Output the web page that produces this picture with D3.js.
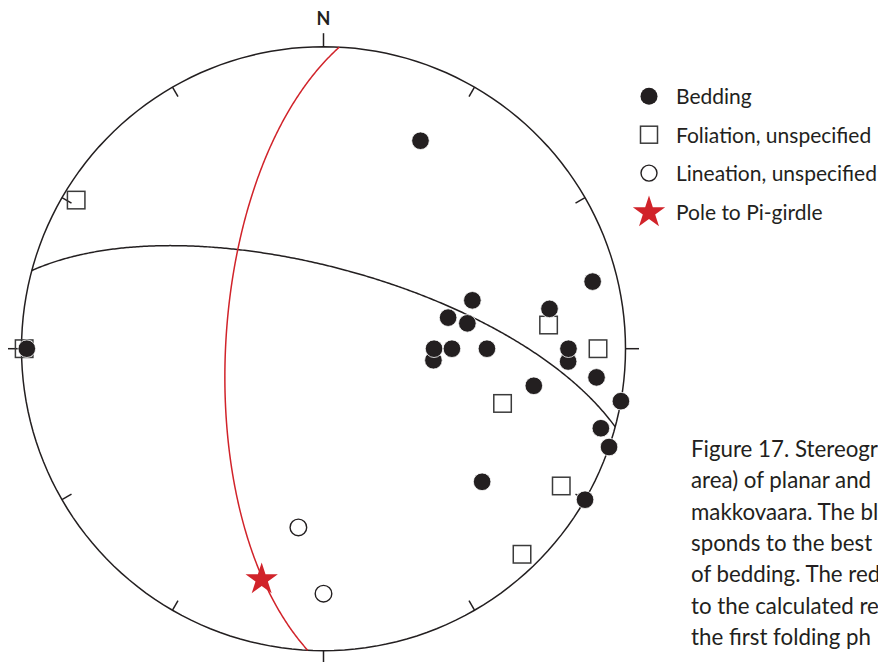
<!DOCTYPE html>
<html>
<head>
<meta charset="utf-8">
<script src="https://cdn.jsdelivr.net/npm/d3@7"></script>
<style>
  body { margin: 0; background: #fff; }
  svg { display: block; }
  text { font-family: Lato, "Open Sans", sans-serif; fill: #231f20; }
</style>
</head>
<body>
<svg id="chart" width="878" height="662"></svg>
<script>
// Lower-hemisphere orientations as [trend°, plunge°]
const bedding = [
  [25, 25], [76, 9], [72, 47], [76, 55], [80, 50], [80, 25], [96, 60],
  [90, 60], [90, 55], [90, 45], [93, 20], [90, 20], [96, 10], [100, 30],
  [100, 0], [106, 5], [109, 0], [130, 32], [120, 0], [270, 2]
];
const foliation = [
  [301, 5], [84, 26], [90, 10], [107, 38], [120, 10], [136, 6], [270, 1]
];
const lineation = [
  [188, 40], [180, 20]
];
// Pole to the best-fit great circle (pi-girdle) of bedding, [trend°, plunge°]
const piPole = [195, 22];
// Red plane as [dip direction°, dip°]
const redPlane = [273, 63.5];

const tickAzimuths = d3.range(0, 360, 30);
const legendLabels = ["Bedding", "Foliation, unspecified", "Lineation, unspecified", "Pole to Pi-girdle"];
const captionLines = [
  "Figure 17. Stereograp",
  "area) of planar and",
  "makkovaara. The bl",
  "sponds to the best",
  "of bedding. The red",
  "to the calculated re",
  "the first folding ph"
];

const ink = "#231f20";
const red = "#d1232a";

const svg = d3.select("#chart");
svg.append("rect").attr("width", 878).attr("height", 662).attr("fill", "#fff");

// Equal-area (Schmidt) net, lower hemisphere
const cx = 323.5, cy = 348.7, R = 302;
const projection = d3.geoAzimuthalEqualArea()
  .scale(R / Math.SQRT2)
  .translate([cx, cy])
  .clipAngle(90)
  .precision(0.1);
const path = d3.geoPath(projection);

const rad = Math.PI / 180;
// trend/plunge -> lon/lat with the downward vertical at the projection centre
function toGeo([t, p]) {
  const n = Math.cos(p * rad) * Math.cos(t * rad);
  const e = Math.cos(p * rad) * Math.sin(t * rad);
  const d = Math.sin(p * rad);
  return [Math.atan2(e, d) / rad, Math.asin(Math.max(-1, Math.min(1, n))) / rad];
}
function greatCircle(pole) {
  const ring = d3.geoCircle().center(toGeo(pole)).radius(90).precision(0.5)().coordinates[0];
  return { type: "LineString", coordinates: ring };
}

// Primitive circle
svg.append("path")
  .attr("d", path({ type: "Sphere" }))
  .attr("fill", "none").attr("stroke", ink).attr("stroke-width", 1.5);

// Azimuth ticks: cardinal ticks point outwards, the others inwards
svg.append("g").selectAll("line").data(tickAzimuths).join("line")
  .each(function (az) {
    const [x, y] = projection(toGeo([az, 0]));
    const ux = (x - cx) / R, uy = (y - cy) / R;
    const len = az % 90 === 0 ? 13.5 : -11;
    d3.select(this)
      .attr("x1", x).attr("y1", y)
      .attr("x2", x + ux * len).attr("y2", y + uy * len);
  })
  .attr("stroke", ink).attr("stroke-width", 1.5);

// North label
const northPt = projection(toGeo([0, 0]));
svg.append("text")
  .attr("x", northPt[0]).attr("y", northPt[1] - 21.5)
  .attr("text-anchor", "middle")
  .attr("font-size", 18).attr("font-weight", 700)
  .text("N");

// Great circles
svg.append("path")
  .attr("d", path(greatCircle(piPole)))
  .attr("fill", "none").attr("stroke", ink).attr("stroke-width", 1.5);
svg.append("path")
  .attr("d", path(greatCircle([redPlane[0] + 180, 90 - redPlane[1]])))
  .attr("fill", "none").attr("stroke", red).attr("stroke-width", 1.5);

// Foliation (open squares)
const sq = 17.5;
svg.append("g").selectAll("rect").data(foliation).join("rect")
  .attr("x", d => projection(toGeo(d))[0] - sq / 2)
  .attr("y", d => projection(toGeo(d))[1] - sq / 2)
  .attr("width", sq).attr("height", sq)
  .attr("fill", "none").attr("stroke", "#3b3b3b").attr("stroke-width", 1.5);

// Lineation (open circles)
svg.append("g").selectAll("circle").data(lineation).join("circle")
  .attr("cx", d => projection(toGeo(d))[0])
  .attr("cy", d => projection(toGeo(d))[1])
  .attr("r", 8.3)
  .attr("fill", "none").attr("stroke", ink).attr("stroke-width", 1.4);

// Bedding (filled dots)
svg.append("g").selectAll("circle").data(bedding).join("circle")
  .attr("cx", d => projection(toGeo(d))[0])
  .attr("cy", d => projection(toGeo(d))[1])
  .attr("r", 8.8)
  .attr("fill", ink).attr("stroke", "#fff").attr("stroke-width", 0.8);

// Pi-girdle pole (star)
const starSize = 17 * 17 / 0.8908130915292852;
const starPath = d3.symbol(d3.symbolStar, starSize)();
const sp = projection(toGeo(piPole));
svg.append("path")
  .attr("d", starPath)
  .attr("transform", `translate(${sp[0]},${sp[1]})`)
  .attr("fill", red);

// Legend
const legend = svg.append("g");
const lx = 649, tx = 676, ly0 = 104.3, ldy = 38.4;
legendLabels.forEach((label, i) => {
  const by = ly0 + i * ldy;
  const sy = by - 8;
  if (i === 0) {
    legend.append("circle").attr("cx", lx).attr("cy", sy).attr("r", 8.5).attr("fill", ink);
  } else if (i === 1) {
    legend.append("rect").attr("x", lx - 8.5).attr("y", sy - 8.5).attr("width", 17).attr("height", 17)
      .attr("fill", "none").attr("stroke", "#3b3b3b").attr("stroke-width", 1.5);
  } else if (i === 2) {
    legend.append("circle").attr("cx", lx).attr("cy", sy).attr("r", 8)
      .attr("fill", "none").attr("stroke", ink).attr("stroke-width", 1.4);
  } else {
    legend.append("path").attr("d", starPath).attr("transform", `translate(${lx},${sy + 1})`).attr("fill", red);
  }
  legend.append("text").attr("x", tx).attr("y", by).attr("font-size", 21).text(label);
});

// Caption
const caption = svg.append("g");
captionLines.forEach((line, i) => {
  caption.append("text")
    .attr("x", 691).attr("y", 457 + i * 31.3)
    .attr("font-size", 22.3)
    .text(line);
});
</script>
</body>
</html>
